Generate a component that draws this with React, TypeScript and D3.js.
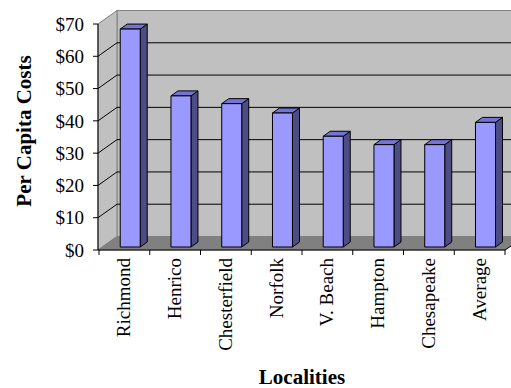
import * as d3 from "d3";
import { useEffect, useRef } from "react";

const localities = ["Richmond", "Henrico", "Chesterfield", "Norfolk", "V. Beach", "Hampton", "Chesapeake", "Average"];
const costs = [67.5, 46.8, 44.4, 41.5, 34.3, 31.7, 31.7, 38.6];
const yTicks = [0, 10, 20, 30, 40, 50, 60, 70];

const svgX = 511;
const svgY = 388;

export default function App() {
  const ref = useRef<SVGSVGElement>(null);

  useEffect(() => {
    const svg = d3.select(ref.current);
    svg.selectAll("*").remove();

    const font = "'Liberation Serif', 'Times New Roman', serif";
    // plot front plane
    const left = 98, right = 505, bottom = 250, top = 24;
    // depth of the 3d box
    const dx = 19, dy = -13.5;

    const x = d3.scaleBand<string>()
      .domain(localities)
      .range([left + 1, right])
      .paddingInner(0.6)
      .paddingOuter(0.3);
    const y = d3.scaleLinear().domain([0, 70]).range([bottom, top]);

    // back wall
    svg.append("rect")
      .attr("x", left + dx)
      .attr("y", top + dy)
      .attr("width", svgX)
      .attr("height", bottom - top)
      .attr("fill", "#c0c0c0")
      .attr("stroke", "#808080");

    // side wall
    svg.append("path")
      .attr("d", `M${left},${bottom}L${left},${top}L${left + dx},${top + dy}L${left + dx},${bottom + dy}Z`)
      .attr("fill", "#c0c0c0")
      .attr("stroke", "#808080");

    // floor
    svg.append("path")
      .attr("d", `M${left},${bottom}L${left + dx},${bottom + dy}L${right + dx},${bottom + dy}L${right},${bottom}Z`)
      .attr("fill", "#808080")
      .attr("stroke", "#808080");

    // gridlines
    const grid = svg.append("g").attr("stroke", "#000").attr("stroke-width", 1);
    yTicks.filter((t) => t > 0 && t < 70).forEach((t) => {
      grid.append("line")
        .attr("x1", left + dx).attr("x2", svgX)
        .attr("y1", y(t) + dy).attr("y2", y(t) + dy);
      grid.append("line")
        .attr("x1", left).attr("x2", left + dx)
        .attr("y1", y(t)).attr("y2", y(t) + dy);
    });

    // bars
    const bx = 4.5, by = -3; // bar front offset inside the depth
    const bdx = 7, bdy = -5; // bar depth
    const yb = (v: number) => y(v) + by;
    const bars = svg.append("g").attr("stroke", "#000").attr("stroke-width", 1).attr("stroke-linejoin", "round");
    localities.forEach((c, i) => {
      const x0 = (x(c) as number) + bx + 1.5;
      const w = 20;
      const y0 = yb(0), y1 = yb(costs[i]);
      bars.append("path")
        .attr("d", `M${x0 + w},${y0}L${x0 + w + bdx},${y0 + bdy}L${x0 + w + bdx},${y1 + bdy}L${x0 + w},${y1}Z`)
        .attr("fill", "#4d4d86");
      bars.append("path")
        .attr("d", `M${x0},${y1}L${x0 + bdx},${y1 + bdy}L${x0 + w + bdx},${y1 + bdy}L${x0 + w},${y1}Z`)
        .attr("fill", "#7474d4");
      bars.append("rect")
        .attr("x", x0).attr("y", y1)
        .attr("width", w).attr("height", y0 - y1)
        .attr("fill", "#9999ff");
    });

    // y axis
    const ya = svg.append("g").attr("stroke", "#000");
    ya.append("line").attr("x1", left).attr("x2", left).attr("y1", top).attr("y2", bottom);
    yTicks.forEach((t) => {
      ya.append("line").attr("x1", left - 5).attr("x2", left).attr("y1", y(t)).attr("y2", y(t));
    });
    svg.append("g")
      .selectAll("text")
      .data(yTicks)
      .join("text")
      .attr("x", left - 14)
      .attr("y", (d) => y(d))
      .attr("dy", "0.35em")
      .attr("text-anchor", "end")
      .attr("font-family", font)
      .attr("font-size", 19)
      .text((d) => `$${d}`);

    // x axis
    const xa = svg.append("g").attr("stroke", "#000");
    xa.append("line").attr("x1", left).attr("x2", right).attr("y1", bottom).attr("y2", bottom);
    xa.append("line").attr("x1", right).attr("x2", right + 6).attr("y1", bottom).attr("y2", bottom - 4);
    const step = x.step();
    localities.forEach((c, i) => {
      const xt = left + 1 + i * step;
      xa.append("line").attr("x1", xt).attr("x2", xt).attr("y1", bottom).attr("y2", bottom + 5);
    });
    xa.append("line").attr("x1", right).attr("x2", right).attr("y1", bottom).attr("y2", bottom + 5);

    svg.append("g")
      .selectAll("text")
      .data(localities)
      .join("text")
      .attr("transform", (d) => `translate(${(x(d) as number) + x.bandwidth() / 2 + 6},${bottom + 8})rotate(-90)`)
      .attr("text-anchor", "end")
      .attr("font-family", font)
      .attr("font-size", 19)
      .text((d) => d);

    // axis titles
    svg.append("text")
      .attr("transform", `translate(31,${(top + bottom) / 2 - 6})rotate(-90)`)
      .attr("text-anchor", "middle")
      .attr("font-family", font)
      .attr("font-weight", "bold")
      .attr("font-size", 21)
      .text("Per Capita Costs");

    svg.append("text")
      .attr("x", 302)
      .attr("y", 384)
      .attr("text-anchor", "middle")
      .attr("font-family", font)
      .attr("font-weight", "bold")
      .attr("font-size", 21)
      .text("Localities");
  }, []);

  return (
    <svg
      ref={ref}
      width={svgX}
      height={svgY}
      style={{ position: "absolute", left: 0, top: 0, background: "#fff" }}
    />
  );
}
